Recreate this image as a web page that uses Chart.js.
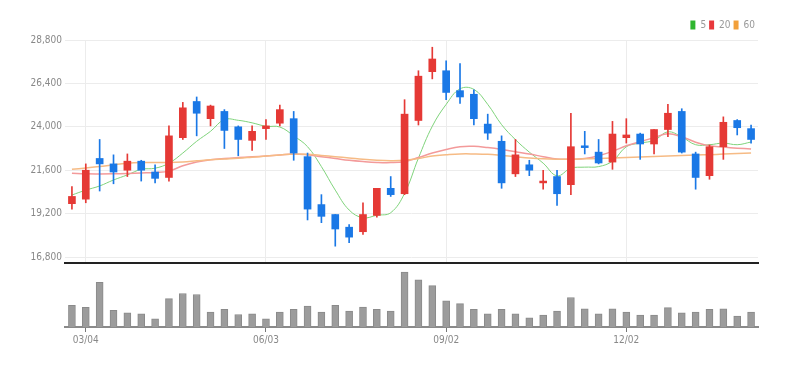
<!DOCTYPE html>
<html>
<head>
<meta charset="utf-8">
<script src="https://cdn.jsdelivr.net/npm/chart.js@4.4.1/dist/chart.umd.min.js"></script>
<style>
  html, body { margin: 0; padding: 0; background: #fff; }
  #wrap { width: 801px; height: 366px; position: relative; }
  #priceBox { position: absolute; left: 0; top: 0; width: 801px; height: 272px; }
  #volBox { position: absolute; left: 0; top: 264px; width: 801px; height: 102px; }
</style>
</head>
<body>
<div id="wrap">
  <div id="priceBox"><canvas id="priceChart"></canvas></div>
  <div id="volBox"><canvas id="volumeChart"></canvas></div>
</div>
<script>
// weekly candles (MM/DD)
const dates = [
  "02/26", "03/04", "03/11", "03/18", "03/25", "04/01", "04/08", "04/15", "04/22", "04/29",
  "05/06", "05/13", "05/20", "05/27", "06/03", "06/10", "06/17", "06/24", "07/01", "07/08",
  "07/15", "07/22", "07/29", "08/05", "08/12", "08/19", "08/26", "09/02", "09/09", "09/16",
  "09/23", "09/30", "10/07", "10/14", "10/21", "10/28", "11/04", "11/11", "11/18", "11/25",
  "12/02", "12/09", "12/16", "12/23", "12/30", "01/06", "01/13", "01/20", "01/27", "02/03"
];
const xTickLabels = ["03/04", "06/03", "09/02", "12/02"];
const priceTicks = [16800, 19200, 21600, 24000, 26400, 28800];

const opens = [
  19750, 20000, 22250, 21950, 21600, 22100, 21500, 21200, 23400, 25400,
  24450, 24850, 24000, 23250, 23900, 24200, 24450, 22350, 19700, 19150,
  18450, 18200, 19100, 20600, 20300, 24350, 27050, 27100, 26000, 25800,
  24150, 23200, 21400, 21900, 20900, 21250, 20800, 22950, 22600, 22050,
  23400, 23600, 23050, 23850, 24850, 22500, 21300, 22900, 24350, 23900
];
const closes = [
  20150, 21600, 21950, 21500, 22100, 21600, 21150, 23500, 25050, 24750,
  25150, 23800, 23300, 23750, 24050, 24950, 22550, 19450, 19050, 18350,
  17900, 19150, 20600, 20250, 24700, 26800, 27750, 25900, 25650, 24450,
  23650, 20900, 22450, 21600, 21000, 20300, 22900, 22850, 22000, 23600,
  23550, 23050, 23850, 24750, 22600, 21200, 22900, 24250, 23950, 23300
];
const highs = [
  20700, 21950, 23300, 22450, 22500, 22150, 21900, 24050, 25350, 25650,
  25200, 24950, 24050, 24050, 24400, 25200, 24850, 22550, 20250, 19150,
  18600, 19800, 20600, 21250, 25500, 27100, 28400, 27650, 27500, 26050,
  24700, 23500, 23300, 22150, 21600, 21600, 24750, 23750, 23300, 24300,
  24450, 23650, 23850, 25250, 25000, 22600, 23000, 24550, 24400, 24100
];
const lows = [
  19450, 19800, 20450, 20850, 21250, 21000, 20900, 21000, 23300, 23500,
  24050, 22800, 22400, 22700, 23300, 24050, 22150, 18850, 18700, 17400,
  17600, 18050, 19000, 20150, 20250, 24100, 26650, 25500, 25300, 24100,
  23300, 20600, 21250, 21300, 20550, 19650, 20250, 22500, 21950, 21650,
  23100, 22200, 22500, 23450, 22550, 20550, 21100, 22200, 23550, 23100
];

// moving averages as drawn
const ma5 = [
  20230, 20500, 20730, 21060, 21340, 21650, 21710, 21990, 22550, 23200,
  23750, 24400, 24360, 24220, 24030, 23990, 23500, 22900, 21800, 20500,
  19400, 18970, 19110, 19250, 20320, 22270, 24030, 25240, 26100, 26070,
  25240, 24120, 23290, 22600, 21990, 21290, 21710, 21770, 21800, 22100,
  22900, 23100, 23250, 23720, 23440, 23010, 23010, 23100, 23010, 23160
];
const ma20 = [
  21430, 21400, 21395, 21400, 21420, 21450, 21480, 21550, 21850, 22060,
  22180, 22250, 22300, 22340, 22390, 22440, 22500, 22450, 22350, 22250,
  22150, 22080, 22030, 22020, 22080, 22300, 22550, 22750, 22900, 22920,
  22850, 22750, 22620, 22500, 22350, 22220, 22210, 22250, 22400, 22640,
  22950, 23180, 23400, 23620, 23450, 23150, 22950, 22880, 22820, 22770
];
const ma60 = [
  21650, 21720, 21800, 21900, 21980, 22020, 22030, 22030, 22060, 22120,
  22180, 22220, 22260, 22320, 22380, 22440, 22500, 22480, 22420, 22350,
  22280, 22200, 22150, 22130, 22150, 22250, 22380, 22450, 22500, 22500,
  22480, 22420, 22350, 22280, 22230, 22210, 22210, 22230, 22250, 22280,
  22310, 22330, 22360, 22390, 22420, 22440, 22460, 22490, 22520, 22550
];

// volume (thousand shares)
const volumes = [
  213, 193, 440, 163, 140, 130, 80, 280, 330, 320,
  147, 173, 123, 130, 80, 147, 173, 207, 147, 213,
  157, 197, 173, 157, 540, 463, 407, 257, 230, 173,
  130, 173, 130, 90, 117, 157, 290, 180, 130, 180,
  147, 117, 117, 190, 140, 147, 173, 180, 107, 147
];

const UP = "#e53935";
const DOWN = "#1a78e6";
const AXIS_W = 65;
const RIGHT_PAD = 43;
const FONT = "'Liberation Sans Narrow', 'DejaVu Sans Condensed', sans-serif";

Chart.defaults.font.family = FONT;
Chart.defaults.font.size = 10;
Chart.defaults.color = "#888";
Chart.defaults.animation = false;

const candleColors = opens.map((o, i) => closes[i] >= o ? UP : DOWN);
const legendColors = { "5": "#2fb52f", "20": "#e8383c", "60": "#f2a03a" };
const isTick = i => xTickLabels.includes(dates[i]);

const priceChart = new Chart(document.getElementById("priceChart"), {
  type: "bar",
  data: {
    labels: dates,
    datasets: [
      { type: "line", label: "5", data: ma5, borderColor: "#7fd37b", borderWidth: 1, pointRadius: 0, tension: 0.4, order: 5 },
      { type: "line", label: "20", data: ma20, borderColor: "#f39a9a", borderWidth: 1.5, pointRadius: 0, tension: 0.4, order: 4 },
      { type: "line", label: "60", data: ma60, borderColor: "#f6bb85", borderWidth: 1.5, pointRadius: 0, tension: 0.4, order: 3 },
      { label: "wick", data: lows.map((l, i) => [l, highs[i]]), backgroundColor: candleColors, barThickness: 1, grouped: false, order: 2 },
      { label: "body", data: opens.map((o, i) => [o, closes[i]]), backgroundColor: candleColors, barThickness: 7, grouped: false, order: 1 }
    ]
  },
  options: {
    responsive: true,
    maintainAspectRatio: false,
    layout: { padding: { top: 17, right: RIGHT_PAD, left: 0, bottom: 0 } },
    plugins: {
      tooltip: { enabled: false },
      legend: {
        position: "top",
        align: "end",
        labels: {
          boxWidth: 5,
          boxHeight: 9,
          padding: 3,
          color: "#999",
          font: { size: 10 },
          sort: (a, b) => a.datasetIndex - b.datasetIndex,
          filter: item => item.text in legendColors,
          generateLabels: chart => Chart.defaults.plugins.legend.labels.generateLabels(chart).map(it => ({
            ...it, fillStyle: legendColors[it.text], strokeStyle: legendColors[it.text], lineWidth: 0
          }))
        }
      }
    },
    scales: {
      x: {
        offset: true,
        grid: { offset: false, drawTicks: false, color: ctx => isTick(ctx.index) ? "#ececec" : "transparent" },
        border: { color: "#222", width: 2 },
        ticks: { display: false, autoSkip: false }
      },
      y: {
        min: 16470,
        max: 28800,
        afterBuildTicks: s => { s.ticks = priceTicks.map(v => ({ value: v })); },
        afterFit: s => { s.width = AXIS_W; },
        grid: { color: "#ececec", drawTicks: false },
        border: { display: false },
        ticks: { padding: 3, color: "#888", callback: v => v.toLocaleString("en-US") }
      }
    }
  }
});

const volumeChart = new Chart(document.getElementById("volumeChart"), {
  type: "bar",
  data: {
    labels: dates,
    datasets: [{ data: volumes, backgroundColor: "#9c9c9c", borderColor: "#8a8a8a", borderWidth: 1, barThickness: 7 }]
  },
  options: {
    responsive: true,
    maintainAspectRatio: false,
    layout: { padding: { top: 0, right: RIGHT_PAD, left: AXIS_W, bottom: 18 } },
    plugins: { legend: { display: false }, tooltip: { enabled: false } },
    scales: {
      x: {
        offset: true,
        grid: { offset: false, drawOnChartArea: false, tickLength: 5, color: ctx => isTick(ctx.index) ? "#777" : "transparent" },
        border: { color: "#8a8a8a", width: 2 },
        ticks: { autoSkip: false, maxRotation: 0, padding: 2, color: "#888", callback: (v, i) => isTick(i) ? dates[i] : "" }
      },
      y: { display: false, min: 0, max: 620 }
    }
  }
});
</script>
</body>
</html>
